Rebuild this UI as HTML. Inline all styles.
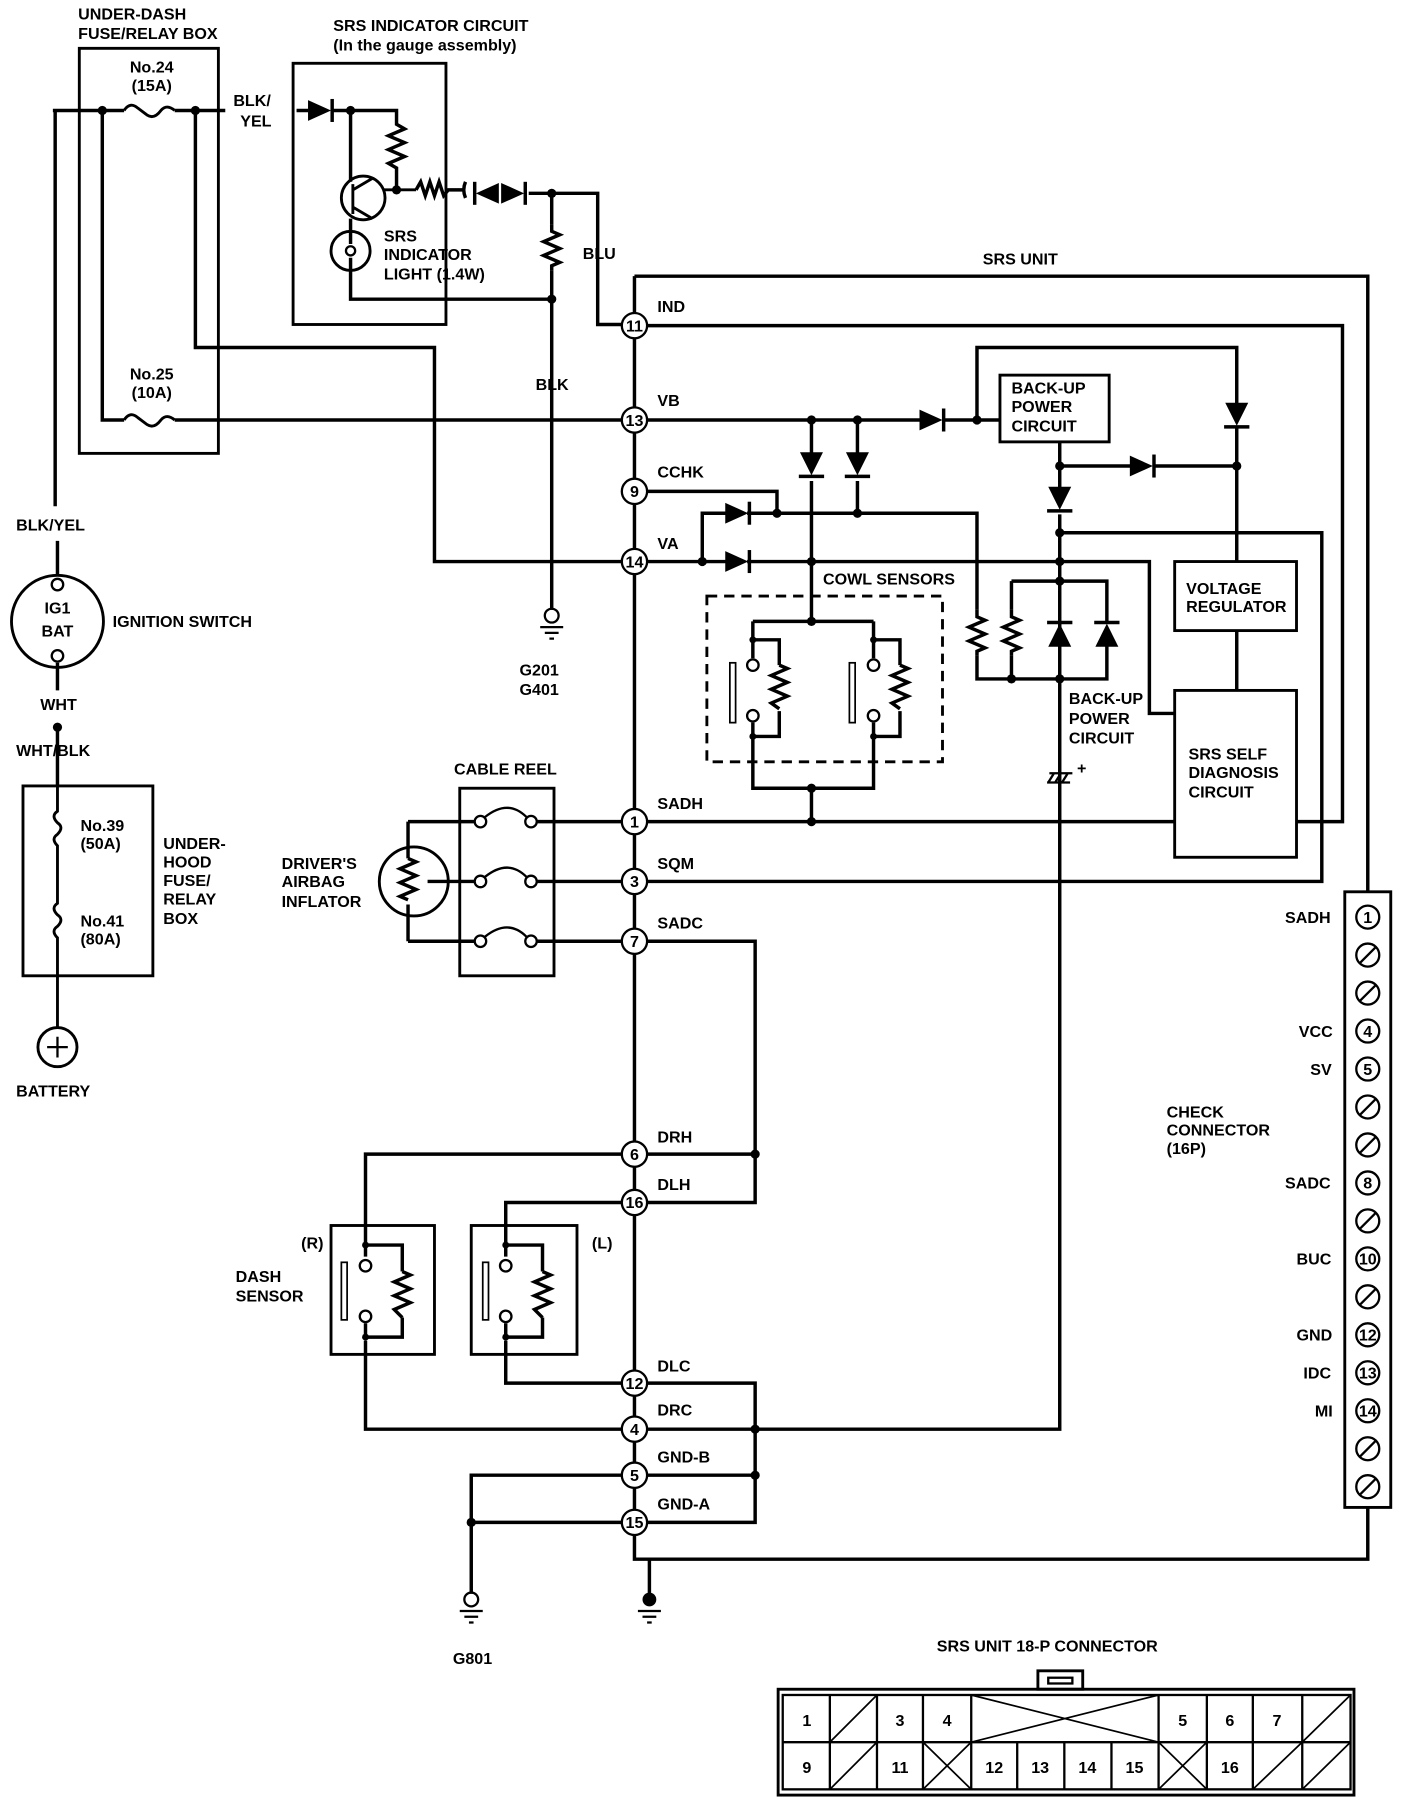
<!DOCTYPE html>
<html><head><meta charset="utf-8"><style>
html,body{margin:0;padding:0;background:#fff;}
svg{display:block;}
text{font-family:"Liberation Sans",sans-serif;font-weight:bold;font-size:14px;fill:#000;}
</style></head><body>
<svg width="1408" height="1802" viewBox="0 0 1225 1566" preserveAspectRatio="none" xmlns="http://www.w3.org/2000/svg">
<defs>
<g id="dr"><path d="M-12 -9 L8 0 L-12 9 Z" fill="#000"/><path d="M9 -10 V10" stroke="#000" stroke-width="3"/></g>
<g id="dd"><path d="M-10 -12 L10 -12 L0 8 Z" fill="#000"/><path d="M-11 9 H11" stroke="#000" stroke-width="3"/></g>
<g id="du"><path d="M-10 12 L10 12 L0 -8 Z" fill="#000"/><path d="M-11 -9 H11" stroke="#000" stroke-width="3"/></g>
<path id="rv" d="M0 0 V6 l7 3 l-14 6 l14 6 l-14 6 l14 6 l-7 3 V40" fill="none" stroke="#000" stroke-width="3"/>
</defs>
<g fill="none" stroke="#000" stroke-width="3">
<rect x="69" y="42" width="121" height="352" stroke-width="2.5"/>
<path d="M46 96 H108 M152 96 H196 M258 96 H268"/>
<path d="M108 96 q5 -8 12 -2 l8 6 q6 4 12 -4 q5 -6 12 0" stroke-width="2.5"/>
<path d="M48 96 V440"/>
<path d="M89 96 V365 H108 M152 365 H541"/>
<path d="M108 365 q5 -8 12 -2 l8 6 q6 4 12 -4 q5 -6 12 0" stroke-width="2.5"/>
<path d="M170 96 V302 H378 V488 H541"/>
<rect x="255" y="55" width="133" height="227" stroke-width="2.5"/>
<path d="M290 96 H345 V108 l7 4 l-14 6 l14 6 l-14 6 l14 6 l-14 6 l7 4 V165"/>
<path d="M305 96 V158"/>
<circle cx="316" cy="172" r="19" stroke-width="2.5"/>
<path d="M307 160 V186 M307 165 L324 155 M307 180 L324 190 M334 165 H362" stroke-width="2.5"/>
<path d="M305 190 V200"/>
<circle cx="305" cy="218" r="17" stroke-width="2.5"/>
<circle cx="305" cy="218" r="4" stroke-width="2"/>
<path d="M305 200 V212 M305 224 V260 H480"/>
<path d="M362 165 l4 -7 l4 12 l4 -12 l4 12 l4 -12 l4 12 l4 -5 H405 M405 158 q-3 7 0 14"/>
<path d="M460 168 H520 V282 H541"/>
<path d="M480 168 V195"/>
<use href="#rv" x="480" y="195"/>
<path d="M480 235 V530"/>
<path d="M552 240 H1190 V775"/>
<path d="M552 240 V1355 H1190 V1310"/>
<path d="M565 1355 V1385"/>
<path d="M563 283 H1168 V714 H1128"/>
<path d="M563 365 H800 M822 365 H870"/>
<rect x="870" y="326" width="95" height="58" stroke-width="2.5"/>
<path d="M850 365 V302 H1076 V352"/>
<path d="M1076 372 V488"/>
<path d="M706 365 V395 M706 418 V540"/>
<path d="M746 365 V395 M746 418 V446"/>
<path d="M563 427 H676 V446"/>
<path d="M611 488 V446 H632 M650 446 H850 V530"/>
<use href="#rv" x="850" y="530"/>
<path d="M850 570 V590 H963 V560"/>
<path d="M563 488 H632 M650 488 H1000 V620 H1022"/>
<path d="M922 384 V425 M922 447 V1242 H563"/>
<path d="M922 405 H985 M1003 405 H1076"/>
<path d="M922 463 H1150 V766 H563"/>
<path d="M880 505 H963 V540"/>
<path d="M880 505 V530"/>
<use href="#rv" x="880" y="530"/>
<path d="M880 570 V590"/>
<rect x="1022" y="488" width="106" height="60" stroke-width="2.5"/>
<path d="M1076 548 V600"/>
<rect x="1022" y="600" width="106" height="145" stroke-width="2.5"/>
<path d="M563 714 H1022"/>
<rect x="615" y="518" width="205" height="144" stroke-dasharray="9 6" stroke-width="2.5"/>
<path d="M655 540 H760"/>
<path d="M655 540 V572 M655 628 V685 H760 V628 M760 572 V540"/>
<path d="M706 685 V714"/>
<path d="M655 556 H678 V578 M678 618 V640 H655"/>
<path d="M760 556 H783 V578 M783 618 V640 H760"/>
<path d="M678 578 l7 3 l-14 6 l14 6 l-14 6 l14 6 l-14 6 l7 5"/>
<path d="M783 578 l7 3 l-14 6 l14 6 l-14 6 l14 6 l-14 6 l7 5"/>
<circle cx="655" cy="578" r="5" stroke-width="2"/><circle cx="655" cy="622" r="5" stroke-width="2"/>
<circle cx="760" cy="578" r="5" stroke-width="2"/><circle cx="760" cy="622" r="5" stroke-width="2"/>
<rect x="635" y="576" width="5" height="52" stroke-width="1.5"/>
<rect x="739" y="576" width="5" height="52" stroke-width="1.5"/>
<path d="M563 818 H657 V1045 H563 M657 1003 H563"/>
<path d="M541 1003 H318 V1082 M541 1045 H440 V1082"/>
<path d="M563 1202 H657 V1282 H563 M563 1323 H657 V1282"/>
<path d="M318 1165 V1242 H541 M440 1165 V1202 H541"/>
<path d="M541 1282 H410 V1385 M541 1323 H410"/>
<rect x="288" y="1065" width="90" height="112" stroke-width="2.5"/>
<rect x="410" y="1065" width="92" height="112" stroke-width="2.5"/>
<path d="M318 1082 V1092 M318 1082 H350 V1105 M350 1145 V1162 H318 V1150"/>
<path d="M350 1105 l7 3 l-14 6 l14 6 l-14 6 l14 6 l-14 6 l7 7"/>
<path d="M440 1082 V1092 M440 1082 H472 V1105 M472 1145 V1162 H440 V1150"/>
<path d="M472 1105 l7 3 l-14 6 l14 6 l-14 6 l14 6 l-14 6 l7 7"/>
<circle cx="318" cy="1100" r="5" stroke-width="2"/><circle cx="318" cy="1144" r="5" stroke-width="2"/>
<circle cx="440" cy="1100" r="5" stroke-width="2"/><circle cx="440" cy="1144" r="5" stroke-width="2"/>
<rect x="297" y="1097" width="5" height="50" stroke-width="1.5"/>
<rect x="420" y="1097" width="5" height="50" stroke-width="1.5"/>
<rect x="400" y="685" width="82" height="163" stroke-width="2.5"/>
<path d="M355 714 H413 M467 714 H541 M372 766 H413 M467 766 H541 M355 818 H413 M467 818 H541"/>
<path d="M355 714 V746 M355 786 V818"/>
<circle cx="360" cy="766" r="30" stroke-width="2.5"/>
<path d="M355 746 l7 3 l-14 6 l14 6 l-14 6 l14 6 l-14 6 l7 3"/>
<g stroke-width="2">
<circle cx="418" cy="714" r="5"/><circle cx="462" cy="714" r="5"/><path d="M422 710 q20 -16 36 0"/>
<circle cx="418" cy="766" r="5"/><circle cx="462" cy="766" r="5"/><path d="M422 762 q20 -16 36 0"/>
<circle cx="418" cy="818" r="5"/><circle cx="462" cy="818" r="5"/><path d="M422 814 q20 -16 36 0"/>
</g>
<path d="M50 470 V500 M50 576 V600 M50 632 V683"/>
<circle cx="50" cy="540" r="40" stroke-width="2.5"/>
<circle cx="50" cy="508" r="5" stroke-width="2"/><circle cx="50" cy="570" r="5" stroke-width="2"/>
<rect x="20" y="683" width="113" height="165" stroke-width="2.5"/>
<path d="M50 683 V705 q-6 4 0 10 q6 4 0 10 q-6 4 0 10 V785 q-6 4 0 10 q6 4 0 10 q-6 4 0 10 V848 V893" stroke-width="2.5"/>
<circle cx="50" cy="910" r="17" stroke-width="2.5"/>
<path d="M50 901 V919 M41 910 H59" stroke-width="2"/>
<path d="M470 545 H490 M474 550 H486 M478 555 H482" stroke-width="2"/>
<circle cx="480" cy="535" r="6" stroke-width="2"/>
<circle cx="410" cy="1390" r="6" stroke-width="2"/>
<path d="M400 1400 H420 M404 1405 H416 M408 1410 H412" stroke-width="2"/>
<path d="M555 1400 H575 M559 1405 H571 M563 1410 H567" stroke-width="2"/>
<path d="M913 672 H933 M911 680 H931 M917 672 l-5 8 M923 672 l-5 8 M929 672 l-5 8" stroke-width="2"/>
<rect x="1170" y="775" width="40" height="535" stroke-width="2.5"/>
<rect x="677" y="1468" width="501" height="92" stroke-width="2.5"/>
<rect x="681" y="1473" width="494" height="82" stroke-width="2"/>
<rect x="903" y="1452" width="39" height="16" stroke-width="2.5"/>
<rect x="912" y="1458" width="21" height="5" stroke-width="2"/>
<path d="M681 1514 H1175" stroke-width="2"/>
<path d="M722 1473 V1555 M763 1473 V1555 M803 1473 V1555 M845 1473 V1555 M885 1514 V1555 M926 1514 V1555 M967 1514 V1555 M1008 1473 V1555 M1050 1473 V1555 M1090 1473 V1555 M1133 1473 V1555" stroke-width="2"/>
<path d="M722 1514 L763 1473 M722 1555 L763 1514 M803 1514 L845 1555 M803 1555 L845 1514 M845 1473 L1008 1514 M845 1514 L1008 1473 M1008 1514 L1050 1555 M1008 1555 L1050 1514 M1090 1555 L1133 1514 M1133 1514 L1175 1473 M1133 1555 L1175 1514" stroke-width="1.5"/>
</g>
<use href="#dr" x="280" y="96"/>
<use href="#dr" x="448" y="168"/>
<g transform="translate(422 168) scale(-1 1)"><use href="#dr"/></g>
<use href="#dr" x="812" y="365"/>
<use href="#dr" x="643" y="446"/>
<use href="#dr" x="643" y="488"/>
<use href="#dr" x="995" y="405"/>
<use href="#dd" x="706" y="405"/>
<use href="#dd" x="746" y="405"/>
<use href="#dd" x="922" y="435"/>
<use href="#dd" x="1076" y="362"/>
<use href="#du" x="922" y="550"/>
<use href="#du" x="963" y="550"/>
<g fill="#000">
<circle cx="89" cy="96" r="4"/><circle cx="170" cy="96" r="4"/><circle cx="305" cy="96" r="4"/>
<circle cx="345" cy="165" r="4"/><circle cx="480" cy="168" r="4"/><circle cx="480" cy="260" r="4"/>
<circle cx="706" cy="365" r="4"/><circle cx="746" cy="365" r="4"/><circle cx="850" cy="365" r="4"/>
<circle cx="676" cy="446" r="4"/><circle cx="746" cy="446" r="4"/><circle cx="706" cy="488" r="4"/><circle cx="611" cy="488" r="4"/>
<circle cx="922" cy="405" r="4"/><circle cx="1076" cy="405" r="4"/><circle cx="922" cy="463" r="4"/><circle cx="922" cy="488" r="4"/><circle cx="922" cy="505" r="4"/>
<circle cx="880" cy="590" r="4"/><circle cx="922" cy="590" r="4"/>
<circle cx="706" cy="540" r="4"/><circle cx="706" cy="685" r="4"/><circle cx="706" cy="714" r="4"/>
<circle cx="655" cy="556" r="3"/><circle cx="655" cy="640" r="3"/><circle cx="760" cy="556" r="3"/><circle cx="760" cy="640" r="3"/>
<circle cx="657" cy="1003" r="4"/><circle cx="657" cy="1242" r="4"/><circle cx="657" cy="1282" r="4"/>
<circle cx="318" cy="1082" r="3"/><circle cx="318" cy="1162" r="3"/><circle cx="440" cy="1082" r="3"/><circle cx="440" cy="1162" r="3"/>
<circle cx="410" cy="1323" r="4"/><circle cx="565" cy="1390" r="6"/><circle cx="50" cy="632" r="4"/>
</g>
<g fill="#fff" stroke="#000" stroke-width="2">
<circle cx="552" cy="283" r="11"/><circle cx="552" cy="365" r="11"/><circle cx="552" cy="427" r="11"/><circle cx="552" cy="488" r="11"/>
<circle cx="552" cy="714" r="11"/><circle cx="552" cy="766" r="11"/><circle cx="552" cy="818" r="11"/><circle cx="552" cy="1003" r="11"/>
<circle cx="552" cy="1045" r="11"/><circle cx="552" cy="1202" r="11"/><circle cx="552" cy="1242" r="11"/><circle cx="552" cy="1282" r="11"/><circle cx="552" cy="1323" r="11"/>
<circle cx="1190" cy="797" r="10"/><circle cx="1190" cy="830" r="10"/><circle cx="1190" cy="863" r="10"/><circle cx="1190" cy="896" r="10"/>
<circle cx="1190" cy="929" r="10"/><circle cx="1190" cy="962" r="10"/><circle cx="1190" cy="995" r="10"/><circle cx="1190" cy="1028" r="10"/>
<circle cx="1190" cy="1061" r="10"/><circle cx="1190" cy="1094" r="10"/><circle cx="1190" cy="1127" r="10"/><circle cx="1190" cy="1160" r="10"/>
<circle cx="1190" cy="1193" r="10"/><circle cx="1190" cy="1226" r="10"/><circle cx="1190" cy="1259" r="10"/><circle cx="1190" cy="1292" r="10"/>
</g>
<g stroke="#000" stroke-width="2">
<path d="M1183 837 L1197 823 M1183 870 L1197 856 M1183 969 L1197 955 M1183 1002 L1197 988 M1183 1068 L1197 1054 M1183 1134 L1197 1120 M1183 1266 L1197 1252 M1183 1299 L1197 1285"/>
</g>
<g font-size="13" text-anchor="middle">
<text x="552" y="288">11</text><text x="552" y="370">13</text><text x="552" y="432">9</text><text x="552" y="493">14</text>
<text x="552" y="719">1</text><text x="552" y="771">3</text><text x="552" y="823">7</text><text x="552" y="1008">6</text>
<text x="552" y="1050">16</text><text x="552" y="1207">12</text><text x="552" y="1247">4</text><text x="552" y="1287">5</text><text x="552" y="1328">15</text>
<text x="1190" y="802">1</text><text x="1190" y="901">4</text><text x="1190" y="934">5</text><text x="1190" y="1033">8</text>
<text x="1190" y="1099">10</text><text x="1190" y="1165">12</text><text x="1190" y="1198">13</text><text x="1190" y="1231">14</text>
</g>
<text x="68" y="17">UNDER-DASH</text><text x="68" y="34">FUSE/RELAY BOX</text>
<text x="132" y="63" text-anchor="middle">No.24</text><text x="132" y="79" text-anchor="middle">(15A)</text>
<text x="203" y="92">BLK/</text><text x="209" y="110">YEL</text>
<text x="290" y="27">SRS INDICATOR CIRCUIT</text><text x="290" y="44" font-size="13">(In the gauge assembly)</text>
<text x="334" y="210">SRS</text><text x="334" y="226">INDICATOR</text><text x="334" y="243">LIGHT (1.4W)</text>
<text x="507" y="225">BLU</text><text x="466" y="339">BLK</text>
<text x="132" y="330" text-anchor="middle">No.25</text><text x="132" y="346" text-anchor="middle">(10A)</text>
<text x="855" y="230">SRS UNIT</text>
<text x="572" y="271">IND</text><text x="572" y="353">VB</text><text x="572" y="415">CCHK</text><text x="572" y="477">VA</text>
<text x="572" y="703">SADH</text><text x="572" y="755">SQM</text><text x="572" y="807">SADC</text><text x="572" y="993">DRH</text>
<text x="572" y="1034">DLH</text><text x="572" y="1192">DLC</text><text x="572" y="1230">DRC</text><text x="572" y="1271">GND-B</text><text x="572" y="1312">GND-A</text>
<text x="880" y="342">BACK-UP</text><text x="880" y="358">POWER</text><text x="880" y="375">CIRCUIT</text>
<text x="1032" y="516">VOLTAGE</text><text x="1032" y="532">REGULATOR</text>
<text x="1034" y="660">SRS SELF</text><text x="1034" y="676">DIAGNOSIS</text><text x="1034" y="693">CIRCUIT</text>
<text x="716" y="508" font-size="12">COWL SENSORS</text>
<text x="930" y="612" font-size="12">BACK-UP</text><text x="930" y="629" font-size="12">POWER</text><text x="930" y="646" font-size="12">CIRCUIT</text>
<text x="937" y="672" font-size="12">+</text>
<text x="452" y="587">G201</text><text x="452" y="604">G401</text>
<text x="14" y="461">BLK/YEL</text>
<text x="50" y="533" text-anchor="middle" font-size="13">IG1</text><text x="50" y="553" text-anchor="middle">BAT</text>
<text x="98" y="545">IGNITION SWITCH</text>
<text x="35" y="617">WHT</text><text x="14" y="657">WHT/BLK</text>
<text x="70" y="722">No.39</text><text x="70" y="738">(50A)</text>
<text x="70" y="805">No.41</text><text x="70" y="821">(80A)</text>
<text x="142" y="738">UNDER-</text><text x="142" y="754">HOOD</text><text x="142" y="770">FUSE/</text><text x="142" y="786">RELAY</text><text x="142" y="803">BOX</text>
<text x="14" y="953">BATTERY</text>
<text x="395" y="673">CABLE REEL</text>
<text x="245" y="755">DRIVER'S</text><text x="245" y="771">AIRBAG</text><text x="245" y="788">INFLATOR</text>
<text x="262" y="1085">(R)</text><text x="515" y="1085">(L)</text>
<text x="205" y="1114">DASH</text><text x="205" y="1131">SENSOR</text>
<text x="394" y="1446">G801</text>
<text x="1118" y="802">SADH</text><text x="1130" y="901">VCC</text><text x="1140" y="934">SV</text>
<text x="1015" y="971">CHECK</text><text x="1015" y="987">CONNECTOR</text><text x="1015" y="1003">(16P)</text>
<text x="1118" y="1033">SADC</text><text x="1128" y="1099">BUC</text><text x="1128" y="1165">GND</text><text x="1134" y="1198">IDC</text><text x="1144" y="1231">MI</text>
<text x="815" y="1435">SRS UNIT 18-P CONNECTOR</text>
<g font-size="17" text-anchor="middle">
<text x="702" y="1500">1</text><text x="783" y="1500">3</text><text x="824" y="1500">4</text><text x="1029" y="1500">5</text><text x="1070" y="1500">6</text><text x="1111" y="1500">7</text>
<text x="702" y="1541">9</text><text x="783" y="1541">11</text><text x="865" y="1541">12</text><text x="905" y="1541">13</text><text x="946" y="1541">14</text><text x="987" y="1541">15</text><text x="1070" y="1541">16</text>
</g>
</svg>
</body></html>
